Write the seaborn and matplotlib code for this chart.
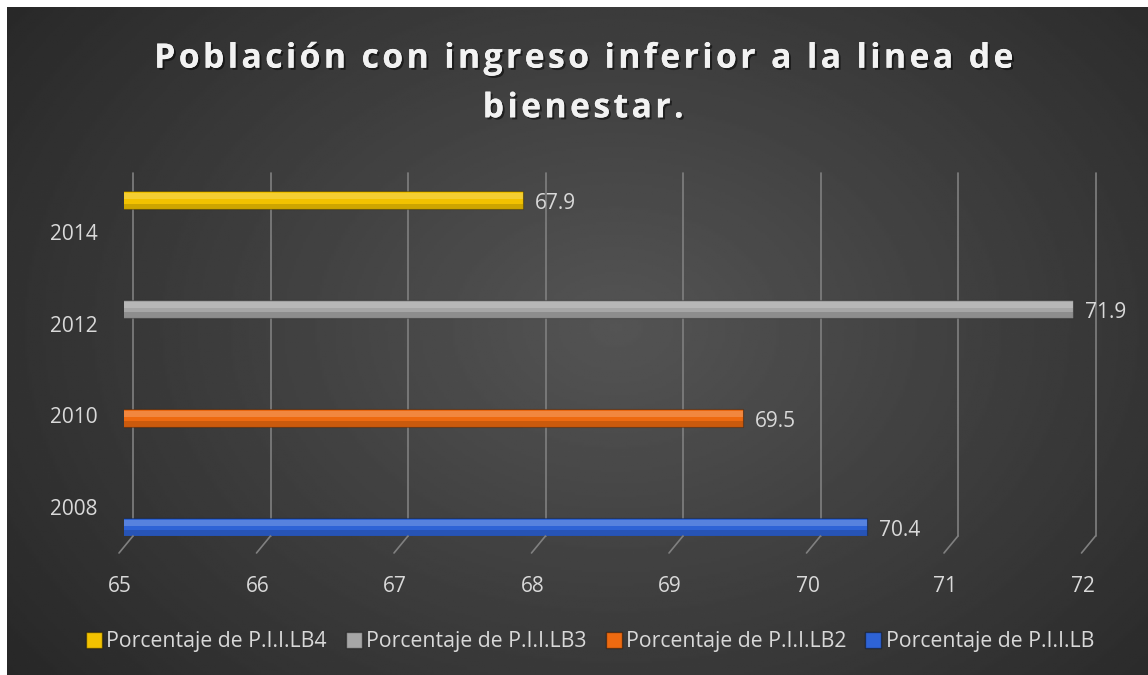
import numpy as np
import pandas as pd
import matplotlib.pyplot as plt
import matplotlib.transforms as mtransforms
import matplotlib.patheffects as pe
from matplotlib.patches import Patch, Rectangle
import seaborn as sns

"""Chart data"""
years = ['2014', '2012', '2010', '2008']
values = [67.9, 71.9, 69.5, 70.4]
series = ['Porcentaje de P.I.I.LB4', 'Porcentaje de P.I.I.LB3',
          'Porcentaje de P.I.I.LB2', 'Porcentaje de P.I.I.LB']
colors = ['#f2c200', '#a6a6a6', '#ee6a10', '#2e63d6']
x_ticks = [65, 66, 67, 68, 69, 70, 71, 72]
title_lines = ['Población con ingreso inferior a la linea de', 'bienestar.']

sns.set_theme(style='dark')
plt.rcParams['font.family'] = ['Open Sans', 'DejaVu Sans']
txt_color = '#d9d9d9'
grid_color = '#808080'

W, H = 1148, 675
fig = plt.figure(figsize=(W / 100, H / 100), dpi=100)
fig.patch.set_facecolor('white')

"""Dark radial background panel"""
bg = fig.add_axes([7 / W, -0.02, 1.02, 1.02 - 7 / H])
yy, xx = np.mgrid[0:1:300j, 0:1:500j]
r = np.sqrt(((xx - 0.52) / 0.75) ** 2 + ((yy - 0.47) / 0.95) ** 2)
shade = np.clip(0.33 - 0.2 * r, 0.14, 0.33)
bg.imshow(shade, cmap='gray', vmin=0, vmax=1, aspect='auto', extent=[0, 1, 0, 1])
bg.set_axis_off()

"""Bar axes"""
ax = fig.add_axes([124 / W, 139 / H, 962.5 / W, 363 / H])
ax.set_facecolor('none')
df = pd.DataFrame({'year': years, 'value': values})
sns.barplot(data=df, x='value', y='year', hue='year', order=years, hue_order=years,
            palette=colors, saturation=1, width=0.16, legend=False, ax=ax,
            edgecolor='#00000055', linewidth=0.8)
ax.set_xlim(x_ticks[0], x_ticks[-1])
ax.set_ylim(3.083, -0.248)

# light and dark stripes to give the bars a tube look
for bar in list(ax.patches):
    x0, y0, w, h = bar.get_x(), bar.get_y(), bar.get_width(), bar.get_height()
    z = bar.get_zorder() + 0.1
    ax.add_patch(Rectangle((x0, y0 + h * 0.12), w, h * 0.3, facecolor='white',
                           alpha=0.2, linewidth=0, zorder=z))
    ax.add_patch(Rectangle((x0, y0 + h * 0.7), w, h * 0.3, facecolor='black',
                           alpha=0.15, linewidth=0, zorder=z))

for c in ax.containers:
    for t in ax.bar_label(c, fmt='%.1f', padding=9, color=txt_color, fontsize=15):
        t.xyann = (t.xyann[0], t.xyann[1] - 2.2)

"""Back wall gridlines with little 3D feet"""
off = mtransforms.ScaledTranslation(9 / 100, 0, fig.dpi_scale_trans)
xtr = ax.get_xaxis_transform() + off
for v in x_ticks:
    ax.plot([v, v], [0, 1], transform=xtr, color=grid_color, lw=1.2, zorder=0.5, clip_on=False)
    ax.annotate('', xy=(v, 0), xycoords=xtr, xytext=(-14, -17), textcoords='offset pixels',
                arrowprops=dict(arrowstyle='-', color=grid_color, lw=1.2, shrinkA=0, shrinkB=0))

ax.set_xticks(x_ticks)
ax.set_xticklabels([str(t) for t in x_ticks])
ax.set_yticks([0.294 + 0.841 * i for i in range(len(years))])
ax.set_yticklabels(years)
ax.tick_params(axis='x', length=0, pad=29, labelsize=15, colors=txt_color)
ax.tick_params(axis='y', length=0, pad=19, labelsize=15, colors=txt_color)
shift = mtransforms.ScaledTranslation(-4 / 100, 0, fig.dpi_scale_trans)
for lbl in ax.get_xticklabels():
    lbl.set_transform(lbl.get_transform() + shift)
ax.set_xlabel('')
ax.set_ylabel('')
ax.grid(False)
for s in ax.spines.values():
    s.set_visible(False)

"""Title, spread out a little like the original letter spacing"""
hair = '\u200a'
spaced = '\n'.join(hair.join(line) for line in title_lines)
fig.text(583 / W, 1 - 83.5 / H, spaced, ha='center', va='center', fontsize=24.3,
         fontweight='bold', color='#f2f2f2', linespacing=1.6,
         path_effects=[pe.withSimplePatchShadow(offset=(1.5, -1.5), shadow_rgbFace='black', alpha=0.5),
                       pe.Normal()])

"""Legend"""
handles = [Patch(facecolor=c, edgecolor='#00000066') for c in colors]
fig.legend(handles, series, loc='center', bbox_to_anchor=(590 / W, 1 - 642 / H), ncol=4,
           frameon=False, handlelength=0.75, handleheight=0.75, handletextpad=0.2,
           columnspacing=0.9, labelcolor=txt_color, fontsize=15.3)

fig.savefig('out.png', dpi=100)
